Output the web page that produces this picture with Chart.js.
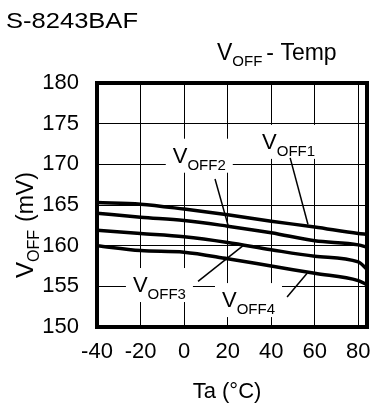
<!DOCTYPE html>
<html>
<head>
<meta charset="utf-8">
<script src="https://cdn.jsdelivr.net/npm/chart.js@4"></script>
<style>
  html, body { margin: 0; padding: 0; background: #fff; }
  canvas { display: block; }
</style>
</head>
<body>
<canvas id="chart" width="375" height="406"></canvas>
<script>
// === Données ===
const temps = [-40, -20, 0, 20, 40, 60, 80, 84];
const voff1 = [165.3, 165.1, 164.5, 163.8, 163.0, 162.3, 161.5, 161.4];
const voff2 = [164.0, 163.5, 163.1, 162.4, 161.6, 160.6, 160.1, 159.8];
const voff3 = [161.9, 161.5, 161.1, 160.4, 159.5, 158.7, 158.0, 157.1];
const voff4 = [160.0, 159.4, 159.2, 158.4, 157.5, 156.6, 155.7, 155.2];
const xTicks = [-40, -20, 0, 20, 40, 60, 80];
const yTicks = [150, 155, 160, 165, 170, 175, 180];

// labels des courbes (coordonnées en données : texte + trait de rappel)
const annotations = [
  { sub: "OFF1", tx: 35.8, ty: 171.9, x1: 48.7, y1: 170.8, x2: 56.9, y2: 162.6 },
  { sub: "OFF2", tx: -5.2, ty: 170.2, x1: 14.2, y1: 168.2, x2: 20.2, y2: 162.5 },
  { sub: "OFF3", tx: -23.5, ty: 154.3, x1: 6.4, y1: 155.6, x2: 27.1, y2: 160.0 },
  { sub: "OFF4", tx: 17.4, ty: 152.45, x1: 47.3, y1: 153.7, x2: 56.5, y2: 156.6 }
];

const FONT = '"Liberation Sans", Arial, sans-serif';

function serie(vals) {
  return {
    data: temps.map((t, i) => ({ x: t, y: vals[i] })),
    borderColor: "#000",
    borderWidth: 3.5,
    pointRadius: 0,
    cubicInterpolationMode: "monotone",
    fill: false
  };
}

// V + indice
function drawV(ctx, x, y, sub, size, subSize, subDy) {
  ctx.font = size + "px " + FONT;
  ctx.fillText("V", x, y);
  const w = ctx.measureText("V").width;
  ctx.font = subSize + "px " + FONT;
  ctx.fillText(sub, x + w, y + subDy);
  return w + ctx.measureText(sub).width;
}

const decor = {
  id: "decor",
  afterDraw(chart) {
    const ctx = chart.ctx;
    const a = chart.chartArea;
    const sx = chart.scales.x, sy = chart.scales.y;
    ctx.save();
    ctx.fillStyle = "#000";
    ctx.strokeStyle = "#000";
    ctx.textBaseline = "alphabetic";
    ctx.textAlign = "left";

    // labels des courbes
    annotations.forEach(an => {
      const x = sx.getPixelForValue(an.tx);
      const y = sy.getPixelForValue(an.ty);
      ctx.font = "22px " + FONT;
      const w = ctx.measureText("V").width;
      ctx.font = "15px " + FONT;
      const tw = w + ctx.measureText(an.sub).width;
      ctx.fillStyle = "#fff";
      ctx.fillRect(x - 7, y - 24, tw + 14, 34);
      ctx.fillStyle = "#000";
      drawV(ctx, x, y, an.sub, 22, 15, 7);
      ctx.lineWidth = 1.5;
      ctx.beginPath();
      ctx.moveTo(sx.getPixelForValue(an.x1), sy.getPixelForValue(an.y1));
      ctx.lineTo(sx.getPixelForValue(an.x2), sy.getPixelForValue(an.y2));
      ctx.stroke();
    });

    // cadre
    ctx.lineWidth = 4;
    ctx.strokeRect(a.left, a.top, a.right - a.left, a.bottom - a.top);

    // titre
    ctx.font = "22px " + FONT;
    const tw = ctx.measureText("S-8243BAF").width;
    ctx.save();
    ctx.translate(6, 28);
    ctx.scale(132 / tw, 1);
    ctx.fillText("S-8243BAF", 0, 0);
    ctx.restore();

    const w2 = drawV(ctx, 217, 60, "OFF", 23, 15, 6);
    ctx.font = "23px " + FONT;
    ctx.fillText("- Temp", 217 + w2 + 4, 60);

    // titre axe Y
    ctx.save();
    ctx.translate(33, 278);
    ctx.rotate(-Math.PI / 2);
    const w3 = drawV(ctx, 0, 0, "OFF", 24, 16, 6);
    ctx.font = "23px " + FONT;
    ctx.fillText("(mV)", w3 + 8, 0);
    ctx.restore();

    // titre axe X
    ctx.font = "22px " + FONT;
    ctx.textAlign = "center";
    ctx.fillText("Ta (°C)", 227, 398);
    ctx.restore();
  }
};

new Chart(document.getElementById("chart").getContext("2d"), {
  type: "line",
  data: { datasets: [serie(voff1), serie(voff2), serie(voff3), serie(voff4)] },
  options: {
    responsive: false,
    animation: false,
    layout: { padding: { top: 83, right: 8, left: 0, bottom: 0 } },
    plugins: { legend: { display: false }, tooltip: { enabled: false } },
    scales: {
      x: {
        type: "linear",
        min: -40,
        max: 84,
        afterBuildTicks: s => { s.ticks = xTicks.map(v => ({ value: v })); },
        afterFit: s => { s.height = 79; s.paddingLeft = 0; s.paddingRight = 0; },
        grid: { color: "#000", lineWidth: 1, drawTicks: false },
        border: { display: false },
        ticks: { color: "#000", font: { family: FONT, size: 22 }, padding: 12, maxRotation: 0 }
      },
      y: {
        min: 150,
        max: 180,
        afterBuildTicks: s => { s.ticks = yTicks.map(v => ({ value: v })); },
        afterFit: s => { s.width = 97; s.paddingTop = 0; s.paddingBottom = 0; },
        grid: { color: "#000", lineWidth: 1, drawTicks: false },
        border: { display: false },
        ticks: { color: "#000", font: { family: FONT, size: 22 }, padding: 18 }
      }
    }
  },
  plugins: [decor]
});
</script>
</body>
</html>
